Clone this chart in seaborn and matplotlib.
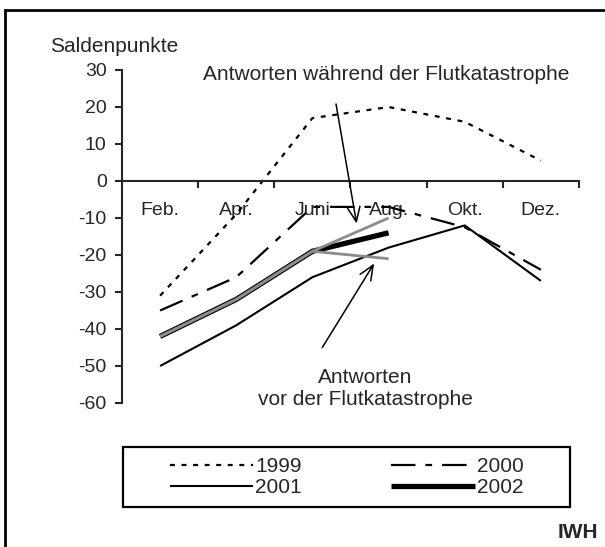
import numpy as np
import pandas as pd
import matplotlib
matplotlib.use("Agg")
import matplotlib.pyplot as plt
from matplotlib.patches import Rectangle
import seaborn as sns

# data (Saldenpunkte, bimonthly survey)
months = ["Feb.", "Apr.", "Juni", "Aug.", "Okt.", "Dez."]
y1999 = [-31, -9, 17, 20, 16, 5.5]
y2000 = [-35, -26, -7, -7, -12.5, -24]
y2001 = [-50, -39, -26, -18, -12, -27]
y2002 = [-42, -32, -19, -14]
vor_flut = [-42, -32, -19, -21]       # answers before the flood
waehrend_flut = [-42, -32, -19, -10]  # answers during the flood

sns.set_style("ticks")
plt.rcParams["font.family"] = ["Liberation Sans", "DejaVu Sans"]
plt.rcParams["axes.unicode_minus"] = False

fig = plt.figure(figsize=(6.05, 5.47), dpi=100)
ax = fig.add_axes([122 / 605, 1 - 403 / 547, 457 / 605, 333 / 547])

styles = {
    "1999": dict(color="black", lw=1.6, dashes=(2.2, 3.0)),
    "2000": dict(color="black", lw=1.6, dashes=(11, 4.5, 3, 4.5)),
    "2001": dict(color="black", lw=1.5, dashes=""),
    "2002": dict(color="black", lw=3.8, dashes=""),
}
series = {"1999": y1999, "2000": y2000, "2001": y2001, "2002": y2002}

handles = {}
for year, vals in series.items():
    x = np.arange(len(vals))
    st = styles[year]
    sns.lineplot(x=x, y=vals, ax=ax, color=st["color"], lw=st["lw"],
                 solid_capstyle="butt", label=year)
    line = ax.get_lines()[-1]
    if st["dashes"]:
        line.set_dashes(st["dashes"])
    handles[year] = line

for vals in (vor_flut, waehrend_flut):
    sns.lineplot(x=np.arange(len(vals)), y=vals, ax=ax, color="#8c8c8c",
                 lw=2.0, solid_capstyle="butt")

if ax.get_legend() is not None:
    ax.get_legend().remove()

ax.set_xlim(-0.5, len(months) - 0.5)
ax.set_ylim(-60, 30)
ax.set_yticks(np.arange(-60, 31, 10))
ax.set_xticks(np.arange(len(months)))
ax.set_xticklabels(months)
ax.set_xticks(np.arange(-0.5, len(months)), minor=True)
ax.tick_params(axis="x", which="major", length=0, pad=15, labelsize=14)
ax.tick_params(axis="x", which="minor", length=5, width=1.5, direction="out")
ax.tick_params(axis="y", length=5, width=1.5, direction="out", pad=6, labelsize=14)
ax.spines["bottom"].set_position(("data", 0))
ax.spines["bottom"].set_linewidth(1.5)
ax.spines["left"].set_linewidth(1.5)
ax.spines["top"].set_visible(False)
ax.spines["right"].set_visible(False)
ax.set_xlabel("")
ax.set_ylabel("")
ax.patch.set_alpha(0)

fig.text(50 / 605, 1 - 47 / 547, "Saldenpunkte", fontsize=15, va="center", ha="left")

# annotations
ax.text(2.97, 28.8, "Antworten während der Flutkatastrophe", fontsize=15,
        ha="center", va="center")
ax.annotate("", xy=(2.58, -11.5), xytext=(2.31, 20.8),
            arrowprops=dict(arrowstyle="->,head_length=0.7,head_width=0.3",
                            lw=1.1, color="black", shrinkA=0, shrinkB=0,
                            mutation_scale=15))
ax.text(2.69, -56.1, "Antworten\nvor der Flutkatastrophe", fontsize=15,
        ha="center", va="center", linespacing=1.2)
ax.annotate("", xy=(2.81, -22.3), xytext=(2.13, -45.0),
            arrowprops=dict(arrowstyle="->,head_length=0.7,head_width=0.3",
                            lw=1.1, color="black", shrinkA=0, shrinkB=0,
                            mutation_scale=15))

# legend (row-wise order: 1999 2000 / 2001 2002) with separate box
order = ["1999", "2001", "2000", "2002"]
fig.legend(handles=[handles[k] for k in order], labels=order, ncol=2,
           frameon=False, loc="center",
           bbox_to_anchor=(346.5 / 605, 1 - 477 / 547),
           fontsize=15, handlelength=4.0, handletextpad=0.1,
           columnspacing=4.3, labelspacing=0.1)
fig.add_artist(Rectangle((123 / 605, 1 - 507 / 547), 447 / 605, 60 / 547,
                         transform=fig.transFigure, fill=False, lw=1.6,
                         edgecolor="black"))

# outer frame (cut at right and bottom)
fig.add_artist(Rectangle((5 / 605, -0.1), 1.2, 1.1 - 10 / 547,
                         transform=fig.transFigure, fill=False, lw=2.0,
                         edgecolor="black"))

fig.text(598 / 605, 1 - 532 / 547, "IWH", fontsize=15, fontweight="bold",
         ha="right", va="center")

fig.savefig("out.png", dpi=100)
